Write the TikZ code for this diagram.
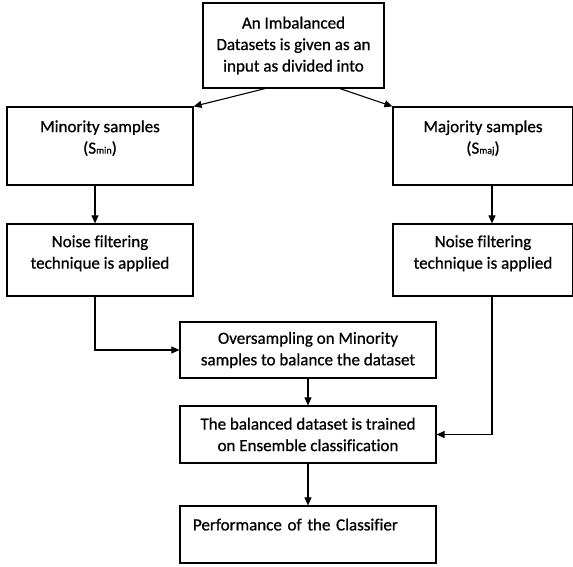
\documentclass[tikz,border=0pt]{standalone}
\usepackage{fontspec}
\setmainfont[Ligatures = CommonOff, FakeBold = 0.8]{Carlito}
\usetikzlibrary{arrows.meta}

\begin{document}
\begin{tikzpicture}[x = 1pt, y = -1pt,
  box/.style = {draw, line width = 1.2pt, align = center, inner sep = 0pt,
                font = \fontsize{17}{21.5}\selectfont},
  arr/.style = {line width = 1.1pt, -{Triangle[length = 8pt, width = 7pt]}}]
\useasboundingbox (0,0) rectangle (573,567);
\node [box, minimum width = 181pt, minimum height = 85pt] (input) at (293.5,45.5)
  {An Imbalanced\\Datasets is given as an\\input as divided into};
\node [box, minimum width = 186pt, minimum height = 78pt, text depth = 18pt] (minority) at (100,146)
  {Minority samples\\(S{\fontsize{10}{12}\selectfont min})};
\node [box, minimum width = 180pt, minimum height = 78pt, text depth = 18pt] (majority) at (483,146)
  {Majority samples\\(S{\fontsize{10}{12}\selectfont maj})};
\node [box, minimum width = 186pt, minimum height = 72pt, text depth = 16pt] (filterL) at (100,260)
  {Noise filtering\\technique is applied};
\node [box, minimum width = 180pt, minimum height = 72pt, text depth = 16pt] (filterR) at (483,260)
  {Noise filtering\\technique is applied};
\node [box, minimum width = 256pt, minimum height = 56pt] (oversample) at (308,350)
  {Oversampling on Minority\\samples to balance the dataset};
\node [box, minimum width = 256pt, minimum height = 57pt] (balanced) at (308,434.5)
  {The balanced dataset is trained\\on Ensemble classification};
\node [box, minimum width = 256pt, minimum height = 57pt, text width = 230pt, inner xsep = 13pt,
       align = left, text depth = 20pt] (perf) at (308,534.5)
  {Performance of the Classifier};
% connectors
\draw [arr] ([xshift = -28.5pt]input.south) -- (minority.north east);
\draw [arr] ([xshift = 46.5pt]input.south) -- (majority.north west);
\draw [arr] ([xshift = -5pt]minority.south) -- ([xshift = -5pt]filterL.north);
\draw [arr] ([xshift = 9pt]majority.south) -- ([xshift = 9pt]filterR.north);
\draw [arr] ([xshift = -5pt]filterL.south) |- (oversample.west);
\draw [arr] ([xshift = 9pt]filterR.south) |- (balanced.east);
\draw [arr] (oversample.south) -- (balanced.north);
\draw [arr] (balanced.south) -- (perf.north);
\end{tikzpicture}
\end{document}
